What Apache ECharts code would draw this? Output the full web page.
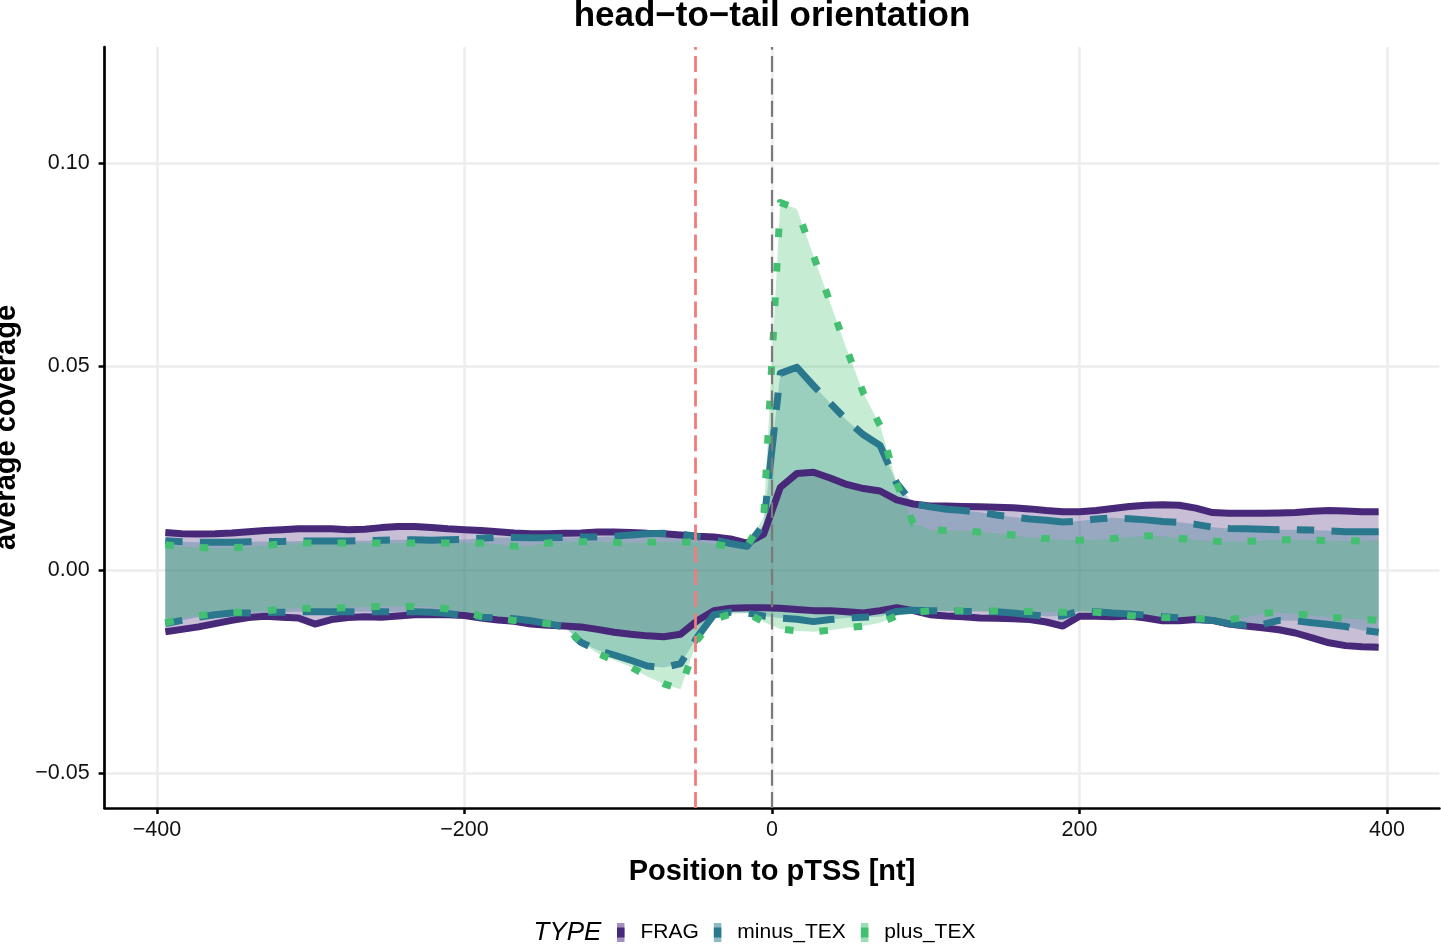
<!DOCTYPE html>
<html><head><meta charset="utf-8">
<script src="https://cdn.jsdelivr.net/npm/echarts@6/dist/echarts.min.js"></script>
<style>html,body{margin:0;padding:0;background:#fff}#c{width:1441px;height:945px}</style>
</head><body><div id="c"></div>
<script>
// ---- data ----
const positions = [-394.6,-383.8,-373.0,-362.2,-351.4,-340.5,-329.7,-318.9,-308.1,-297.3,-286.5,-275.7,-264.9,-254.1,-243.2,-232.4,-221.6,-210.8,-200.0,-189.2,-178.4,-167.6,-156.8,-145.9,-135.1,-124.3,-113.5,-102.7,-91.9,-81.1,-70.3,-59.5,-48.6,-37.8,-27.0,-16.2,-5.4,5.4,16.2,27.0,37.8,48.6,59.5,70.3,81.1,91.9,102.7,113.5,124.3,135.1,145.9,156.8,167.6,178.4,189.2,200.0,210.8,221.6,232.4,243.2,254.1,264.9,275.7,286.5,297.3,308.1,318.9,329.7,340.5,351.4,362.2,373.0,383.8,394.6];

const fragUpper = [0.0092,0.0089,0.0088,0.0089,0.0091,0.0094,0.0097,0.0099,0.0101,0.0101,
0.0101,0.0099,0.0100,0.0104,0.0107,0.0107,0.0104,0.0101,0.0099,0.0097,
0.0094,0.0091,0.0089,0.0089,0.0090,0.0091,0.0093,0.0093,0.0092,0.0090,
0.0089,0.0086,0.0083,0.0081,0.0076,0.0066,0.0088,0.0203,0.0237,0.0240,
0.0226,0.0210,0.0200,0.0194,0.0172,0.0162,0.0157,0.0157,0.0156,0.0155,
0.0154,0.0153,0.0150,0.0146,0.0143,0.0143,0.0146,0.0151,0.0156,0.0159,
0.0160,0.0159,0.0152,0.0141,0.0139,0.0139,0.0139,0.0140,0.0141,0.0144,
0.0146,0.0145,0.0143,0.0143];

const minusUpper = [0.0072,0.0069,0.0068,0.0068,0.0068,0.0069,0.0070,0.0070,0.0071,0.0071,
0.0071,0.0071,0.0072,0.0073,0.0074,0.0074,0.0073,0.0074,0.0075,0.0078,
0.0080,0.0080,0.0079,0.0079,0.0080,0.0081,0.0081,0.0083,0.0086,0.0089,
0.0090,0.0088,0.0082,0.0074,0.0065,0.0058,0.0112,0.0483,0.0498,0.0453,
0.0410,0.0368,0.0332,0.0306,0.0213,0.0163,0.0155,0.0149,0.0146,0.0142,
0.0135,0.0130,0.0125,0.0122,0.0118,0.0120,0.0125,0.0128,0.0126,0.0123,
0.0119,0.0117,0.0112,0.0105,0.0102,0.0101,0.0100,0.0099,0.0099,0.0098,
0.0096,0.0094,0.0094,0.0094];

const plusUpper = [0.0062,0.0057,0.0055,0.0054,0.0055,0.0056,0.0060,0.0064,0.0066,0.0066,
0.0066,0.0066,0.0066,0.0066,0.0066,0.0066,0.0066,0.0066,0.0066,0.0066,
0.0063,0.0058,0.0060,0.0066,0.0069,0.0069,0.0069,0.0068,0.0066,0.0068,
0.0069,0.0069,0.0068,0.0064,0.0056,0.0058,0.0130,0.0903,0.0887,0.0772,
0.0657,0.0542,0.0434,0.0355,0.0213,0.0115,0.0099,0.0097,0.0097,0.0093,
0.0090,0.0086,0.0080,0.0077,0.0074,0.0073,0.0074,0.0077,0.0081,0.0084,
0.0083,0.0078,0.0074,0.0071,0.0069,0.0070,0.0072,0.0074,0.0074,0.0073,
0.0072,0.0071,0.0072,0.0073];

const fragLower = [-0.0152,-0.0146,-0.0140,-0.0132,-0.0124,-0.0117,-0.0114,-0.0116,-0.0118,-0.0133,
-0.0122,-0.0117,-0.0115,-0.0116,-0.0113,-0.0110,-0.0110,-0.0110,-0.0112,-0.0118,
-0.0123,-0.0126,-0.0133,-0.0136,-0.0138,-0.0140,-0.0146,-0.0153,-0.0158,-0.0162,
-0.0164,-0.0158,-0.0125,-0.0100,-0.0094,-0.0093,-0.0093,-0.0094,-0.0097,-0.0100,
-0.0100,-0.0103,-0.0106,-0.0100,-0.0093,-0.0100,-0.0110,-0.0113,-0.0115,-0.0118,
-0.0119,-0.0120,-0.0122,-0.0128,-0.0138,-0.0114,-0.0114,-0.0115,-0.0113,-0.0118,
-0.0125,-0.0125,-0.0122,-0.0124,-0.0133,-0.0138,-0.0142,-0.0147,-0.0155,-0.0167,
-0.0179,-0.0186,-0.0189,-0.0190];

const minusLower = [-0.0132,-0.0124,-0.0116,-0.0110,-0.0106,-0.0106,-0.0105,-0.0104,-0.0103,-0.0103,
-0.0103,-0.0103,-0.0103,-0.0103,-0.0103,-0.0103,-0.0104,-0.0107,-0.0112,-0.0116,
-0.0118,-0.0120,-0.0125,-0.0132,-0.0140,-0.0178,-0.0197,-0.0209,-0.0222,-0.0236,
-0.0240,-0.0230,-0.0165,-0.0110,-0.0104,-0.0106,-0.0113,-0.0118,-0.0121,-0.0127,
-0.0122,-0.0118,-0.0116,-0.0115,-0.0102,-0.0099,-0.0100,-0.0101,-0.0102,-0.0102,
-0.0103,-0.0106,-0.0110,-0.0114,-0.0113,-0.0101,-0.0103,-0.0106,-0.0108,-0.0111,
-0.0115,-0.0118,-0.0121,-0.0124,-0.0132,-0.0136,-0.0134,-0.0124,-0.0125,-0.0130,
-0.0134,-0.0139,-0.0148,-0.0153];

const plusLower = [-0.0130,-0.0120,-0.0112,-0.0108,-0.0105,-0.0103,-0.0100,-0.0097,-0.0094,-0.0095,
-0.0094,-0.0093,-0.0091,-0.0090,-0.0090,-0.0090,-0.0091,-0.0096,-0.0103,-0.0114,
-0.0120,-0.0124,-0.0128,-0.0132,-0.0136,-0.0178,-0.0205,-0.0222,-0.0238,-0.0262,
-0.0280,-0.0293,-0.0172,-0.0122,-0.0108,-0.0106,-0.0128,-0.0145,-0.0150,-0.0152,
-0.0148,-0.0142,-0.0138,-0.0130,-0.0113,-0.0104,-0.0101,-0.0100,-0.0100,-0.0101,
-0.0101,-0.0102,-0.0102,-0.0103,-0.0104,-0.0103,-0.0104,-0.0107,-0.0112,-0.0115,
-0.0117,-0.0118,-0.0119,-0.0121,-0.0122,-0.0117,-0.0107,-0.0104,-0.0108,-0.0112,
-0.0116,-0.0119,-0.0122,-0.0124];

const typeNames = ['FRAG', 'minus_TEX', 'plus_TEX'];
const xTicks = [-400, -200, 0, 200, 400];
const yTicks = [-0.05, 0, 0.05, 0.10];
const markerPositions = [-50, 0];

// ---- styles ----
const FONT = '"Liberation Sans", Arial, Helvetica, sans-serif';
const lineColor = { FRAG: '#482878', minus_TEX: '#2A788E', plus_TEX: '#43BF71' };
const keyLight = { FRAG: '#A38FC0', minus_TEX: '#8FB8C5', plus_TEX: '#9ADEB6' };
const dashes = { FRAG: 'solid', minus_TEX: [17.3, 17.3, 51.8, 17.3], plus_TEX: [8.6, 25.9] };
const bands = [
  { name: 'FRAG', upper: fragUpper, lower: fragLower },
  { name: 'minus_TEX', upper: minusUpper, lower: minusLower },
  { name: 'plus_TEX', upper: plusUpper, lower: plusLower }
];
const pairs = arr => positions.map((x, i) => [x, arr[i]]);
const minusFmt = v => (v < 0 ? '\u2212' : '') + Math.abs(v);

const series = [];
bands.forEach(b => {
  [b.upper, b.lower].forEach(arr => {
    series.push({
      type: 'line', name: b.name, data: pairs(arr), symbol: 'none', showSymbol: false,
      silent: true, z: 1, emphasis: { disabled: true },
      lineStyle: { width: 0, opacity: 0 },
      areaStyle: { color: lineColor[b.name], opacity: 0.3, origin: 'auto' }
    });
  });
});
bands.forEach(b => {
  [b.upper, b.lower].forEach(arr => {
    series.push({
      type: 'line', name: b.name, data: pairs(arr), symbol: 'none', showSymbol: false,
      silent: true, z: 2, emphasis: { disabled: true },
      lineStyle: { color: lineColor[b.name], width: 7, type: dashes[b.name], cap: 'butt', join: 'round' }
    });
  });
});
series.push({
  type: 'line', name: 'vlines', data: [], z: 5, silent: true,
  markLine: {
    silent: true, symbol: ['none', 'none'], label: { show: false }, animation: false,
    data: [
      { xAxis: markerPositions[0], lineStyle: { color: '#F27C7C', width: 2.8, type: [16, 6.3] } },
      { xAxis: markerPositions[1], lineStyle: { color: '#7A7A7A', width: 2.2, type: [16, 6.3] } }
    ]
  }
});

const legendBase = {
  orient: 'horizontal', icon: 'rect', itemWidth: 7.5, itemGap: 15,
  left: 617, top: 922, padding: 0, selectedMode: false
};

const chart = echarts.init(document.getElementById('c'), null, { renderer: 'canvas' });
chart.setOption({
  animation: false,
  backgroundColor: '#ffffff',
  title: [
    { text: 'head\u2212to\u2212tail orientation', left: 772, top: -1, textAlign: 'center', padding: 0,
      textStyle: { fontSize: 35, fontWeight: 'bold', color: '#000', fontFamily: FONT } },
    { text: 'TYPE', left: 567.5, top: 920, textAlign: 'center', padding: 0,
      textStyle: { fontSize: 26, fontStyle: 'italic', fontWeight: 'normal', color: '#000', fontFamily: FONT } }
  ],
  legend: [
    Object.assign({}, legendBase, {
      itemHeight: 19,
      data: typeNames.map(n => ({ name: n, itemStyle: { color: keyLight[n], borderWidth: 0 } })),
      textStyle: { fontSize: 21, color: '#000', fontFamily: FONT, padding: [0, 0, 0, 11] }
    }),
    Object.assign({}, legendBase, {
      itemHeight: 10,
      data: typeNames.map(n => ({ name: n, itemStyle: { color: lineColor[n], borderWidth: 0 } })),
      textStyle: { fontSize: 21, color: 'rgba(0,0,0,0)', fontFamily: FONT, padding: [0, 0, 0, 11] }
    })
  ],
  grid: { left: 104.6, right: 1.6, top: 47, bottom: 137, containLabel: false, outerBoundsMode: 'none' },
  xAxis: {
    type: 'value', min: -434.1, max: 434.1,
    name: 'Position to pTSS [nt]', nameLocation: 'middle', nameGap: 49,
    nameTextStyle: { fontSize: 29, fontWeight: 'bold', color: '#000', fontFamily: FONT },
    axisLine: { show: true, onZero: false, lineStyle: { color: '#000', width: 2.7 } },
    axisTick: { show: true, length: 6, customValues: xTicks, lineStyle: { color: '#000', width: 2.5 } },
    axisLabel: { customValues: xTicks, margin: 11, fontSize: 21.5, color: '#111', fontFamily: FONT,
      formatter: v => minusFmt(v) },
    splitLine: { show: true, lineStyle: { color: '#EDEDED', width: 2.5 } }
  },
  yAxis: {
    type: 'value', min: -0.0585, max: 0.1285,
    name: 'average coverage', nameLocation: 'middle', nameGap: 83,
    nameTextStyle: { fontSize: 29, fontWeight: 'bold', color: '#000', fontFamily: FONT },
    axisLine: { show: true, onZero: false, lineStyle: { color: '#000', width: 2.7 } },
    axisTick: { show: true, length: 6, customValues: yTicks, lineStyle: { color: '#000', width: 2.5 } },
    axisLabel: { customValues: yTicks, margin: 15, fontSize: 21.5, color: '#111', fontFamily: FONT,
      formatter: v => (v < 0 ? '\u2212' : '') + Math.abs(v).toFixed(2) },
    splitLine: { show: true, lineStyle: { color: '#EDEDED', width: 2.5 } }
  },
  series: series
});
</script>
</body></html>
